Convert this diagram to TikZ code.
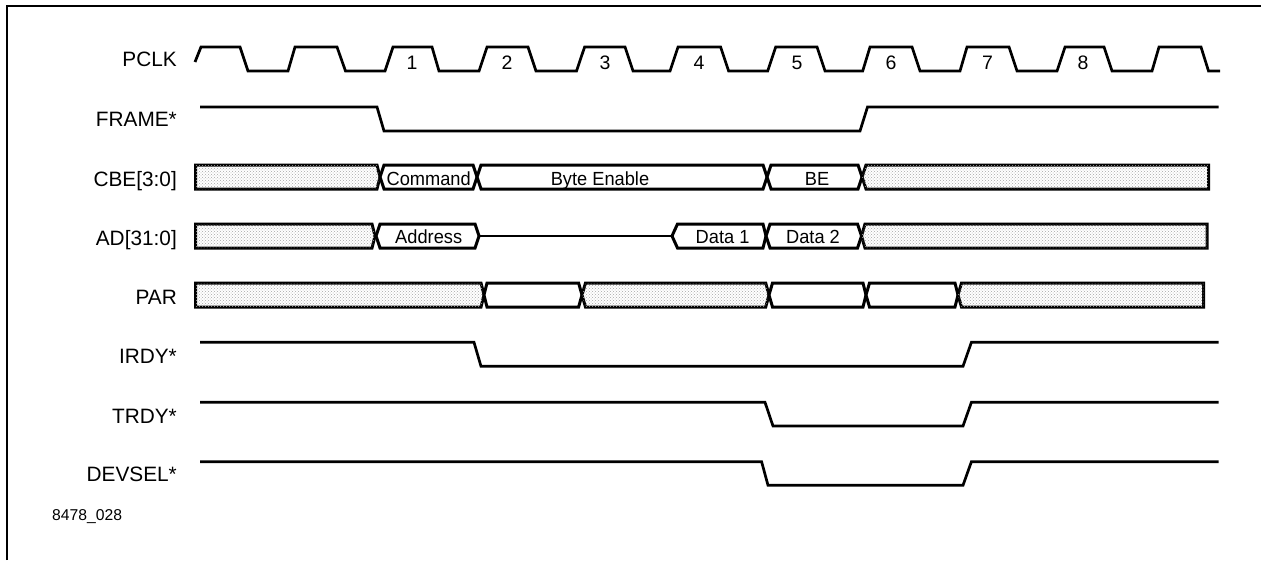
\documentclass[tikz,border=0pt]{standalone}
\usepackage{fontspec}
\setmainfont{Liberation Sans}
\newfontfamily\valfont[FakeStretch=0.96]{Liberation Sans}
\usetikzlibrary{patterns}
\tikzset{
  wave/.style={draw=black,line width=2.7pt,line join=miter,miter limit=3},
  busline/.style={wave,line width=3pt},
  hatched/.style={busline,fill=white,postaction={pattern=crosshatch dots,pattern color=black!35}},
  sig/.style={anchor=base east,inner sep=0pt,font=\fontsize{20.8}{22}\selectfont},
  clk/.style={anchor=base,inner sep=0pt,font=\fontsize{19.5}{21}\selectfont},
  val/.style={anchor=base,inner sep=0pt,font=\valfont\fontsize{19}{20}\selectfont},
  tag/.style={anchor=base west,inner sep=0pt,font=\fontsize{15.7}{17}\selectfont},
}
\begin{document}
\begin{tikzpicture}[x=1pt,y=-1pt]
\useasboundingbox (0,0) rectangle (1261,560);
\draw[line width=2pt] (7,560) -- (7,6) -- (1261,6);
% signal names
\node[sig] (lpclk) at (177,66.7) {PCLK};
\node[sig] (lframe) at (177,126) {FRAME*};
\node[sig] (lcbe) at (177,186) {CBE[3:0]};
\node[sig] (lad) at (177,245) {AD[31:0]};
\node[sig] (lpar) at (177,304) {PAR};
\node[sig] (lirdy) at (177,363) {IRDY*};
\node[sig] (ltrdy) at (177,423) {TRDY*};
\node[sig] (ldevsel) at (177,481.7) {DEVSEL*};
\node[tag] (lfig) at (52,520) {8478\_028};
% PCLK
\draw[wave] (195,62) -- (201,47) -- (240,47) -- (248,71) -- (288,71) -- (295,47) -- (337,47) -- (345.5,71) -- (385,71) -- (393,47) -- (432,47) -- (439,71) -- (479,71) -- (487,47) -- (528,47) -- (536,71) -- (576.5,71) -- (584.6,47) -- (625,47) -- (633,71) -- (670,71) -- (678,47) -- (720.6,47) -- (728.6,71) -- (767.7,71) -- (775.7,47) -- (817,47) -- (825,71) -- (862.7,71) -- (870,47) -- (912,47) -- (920,71) -- (960,71) -- (967,47) -- (1009,47) -- (1017,71) -- (1057,71) -- (1065,47) -- (1104,47) -- (1112,71) -- (1152,71) -- (1159,47) -- (1201,47) -- (1208.5,71) -- (1220,71);
\foreach \n/\x in {1/412,2/507,3/605,4/699,5/797,6/891,7/987.5,8/1083}
  \node[clk] (clk\n) at (\x,69) {\n};
% FRAME*
\draw[wave] (200,107) -- (377,107) -- (384,131) -- (860,131) -- (867.5,107) -- (1218.6,107);
% CBE
\draw[hatched] (195.6,165) -- (377,165) -- (380,177) -- (377,189) -- (195.6,189) -- cycle;
\draw[busline,fill=white] (384,165) -- (473,165) -- (477,177) -- (473,189) -- (384,189) -- (380,177) -- cycle;
\draw[busline,fill=white] (481,165) -- (763,165) -- (767,177) -- (763,189) -- (481,189) -- (477,177) -- cycle;
\draw[busline,fill=white] (771,165) -- (858,165) -- (862,177) -- (858,189) -- (771,189) -- (767,177) -- cycle;
\draw[hatched] (866,165) -- (1208.5,165) -- (1208.5,189) -- (866,189) -- (862,177) -- cycle;
\node[val] (vcmd) at (428.7,185) {Command};
\node[val] (vbyte) at (600,185) {Byte Enable};
\node[val] (vbe) at (817,185) {BE};
% AD
\draw[hatched] (195.6,224) -- (372,224) -- (375,236) -- (372,248) -- (195.6,248) -- cycle;
\draw[busline,fill=white] (380,224) -- (475,224) -- (479,236) -- (475,248) -- (380,248) -- (376,236) -- cycle;
\draw[wave] (479,236) -- (672,236);
\draw[busline,fill=white] (677.5,224) -- (763,224) -- (766,236) -- (763,248) -- (677.5,248) -- (672,236) -- cycle;
\draw[busline,fill=white] (770,224) -- (857.5,224) -- (861.5,236) -- (857.5,248) -- (770,248) -- (766,236) -- cycle;
\draw[hatched] (865,224) -- (1207,224) -- (1207,248) -- (865,248) -- (861.5,236) -- cycle;
\node[val] (vaddr) at (428.7,243) {Address};
\node[val] (vd1) at (722.6,243) {Data 1};
\node[val] (vd2) at (813,243) {Data 2};
% PAR
\draw[hatched] (195.6,283) -- (481,283) -- (484,295) -- (481,307) -- (195.6,307) -- cycle;
\draw[busline,fill=white] (487,283) -- (578.6,283) -- (582,295) -- (578.6,307) -- (487,307) -- (484,295) -- cycle;
\draw[hatched] (585.5,283) -- (765.7,283) -- (769,295) -- (765.7,307) -- (585.5,307) -- (582,295) -- cycle;
\draw[busline,fill=white] (772.5,283) -- (863,283) -- (866,295) -- (863,307) -- (772.5,307) -- (769,295) -- cycle;
\draw[busline,fill=white] (869.5,283) -- (955,283) -- (958,295) -- (955,307) -- (869.5,307) -- (866,295) -- cycle;
\draw[hatched] (961.5,283) -- (1203.7,283) -- (1203.7,307) -- (961.5,307) -- (958,295) -- cycle;
% IRDY*
\draw[wave] (200,342.3) -- (474,342.3) -- (481,366.3) -- (963,366.3) -- (971.4,342.3) -- (1218.6,342.3);
% TRDY*
\draw[wave] (200,402.3) -- (765,402.3) -- (773,426) -- (963,426) -- (971.4,402.3) -- (1218.6,402.3);
% DEVSEL*
\draw[wave] (200,461.7) -- (761.6,461.7) -- (768,485.3) -- (963,485.3) -- (971.4,461.7) -- (1218.6,461.7);
\end{tikzpicture}
\end{document}
